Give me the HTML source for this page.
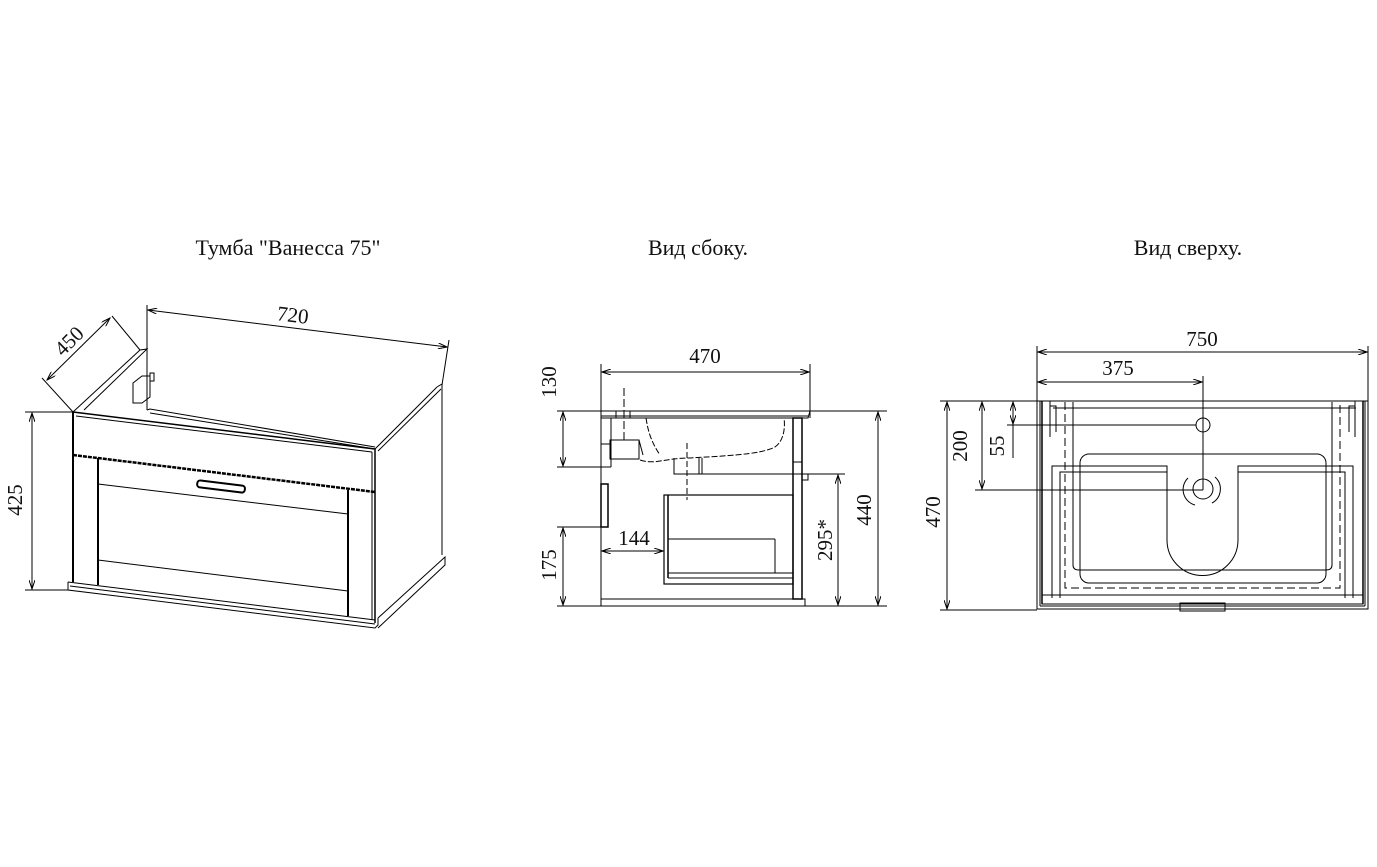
<!DOCTYPE html>
<html><head><meta charset="utf-8"><style>
html,body{margin:0;padding:0;background:#fff}
svg{display:block}
text{font-family:"Liberation Serif",serif;fill:#111}
</style></head><body>
<svg width="1377" height="867" viewBox="0 0 1377 867" xmlns="http://www.w3.org/2000/svg">
<defs>
<marker id="a" markerWidth="10" markerHeight="6" refX="9" refY="3" orient="auto-start-reverse" markerUnits="userSpaceOnUse">
<path d="M0,0 L9,3 L0,6" fill="none" stroke="#000" stroke-width="1"/></marker>
</defs>
<g font-size="22">
<text x="288" y="255" text-anchor="middle">Тумба "Ванесса 75"</text>
<text x="698" y="255" text-anchor="middle">Вид сбоку.</text>
<text x="1188" y="255" text-anchor="middle">Вид сверху.</text>
</g>

<!-- LEFT ISOMETRIC VIEW -->
<g stroke="#000" stroke-width="1" fill="none">
<line x1="147" y1="305" x2="147" y2="349"/>
<line x1="449" y1="340" x2="442" y2="385"/>
<line x1="148" y1="310" x2="447" y2="347" marker-start="url(#a)" marker-end="url(#a)"/>
<line x1="42" y1="378" x2="73" y2="412"/>
<line x1="112" y1="316" x2="140" y2="350"/>
<line x1="47" y1="380" x2="110" y2="318" marker-start="url(#a)" marker-end="url(#a)"/>
<line x1="25" y1="412" x2="73" y2="412"/>
<line x1="25" y1="590" x2="68" y2="590"/>
<line x1="32" y1="413" x2="32" y2="589" marker-start="url(#a)" marker-end="url(#a)"/>
<path d="M73,412 L140,350 L147,349 L84,410"/>
<line x1="147" y1="349" x2="147" y2="410"/>
<path d="M133,383 L142,376 L150,376 L150,397 L142,403 L133,403 Z"/>
<rect x="150" y="373" width="4" height="8"/>
<path d="M147,410 L150,409 L375,447"/>
<line x1="150" y1="413" x2="375" y2="449"/>
<line x1="73" y1="412" x2="375" y2="449" stroke-width="1.5"/>
<line x1="76" y1="416" x2="372" y2="452"/>
<line x1="73" y1="412" x2="73" y2="582" stroke-width="2"/>
<line x1="375" y1="449" x2="375" y2="623" stroke-width="1.5"/>
<line x1="372" y1="452" x2="372" y2="620"/>
<line x1="73" y1="455" x2="375" y2="492" stroke-width="2.5" stroke-dasharray="4,1"/>
<line x1="98" y1="458" x2="98" y2="585" stroke-width="2"/>
<line x1="348" y1="490" x2="348" y2="616" stroke-width="2"/>
<line x1="98" y1="484" x2="348" y2="514"/>
<line x1="98" y1="560" x2="348" y2="591"/>
<rect x="197" y="483" width="48" height="7" rx="3" transform="rotate(7 221 487)" stroke-width="2"/>
<path d="M68,582 L68,590 L375,628 L378,625 L378,618"/>
<line x1="68" y1="582" x2="375" y2="620"/>
<line x1="70" y1="586" x2="375" y2="624"/>
<line x1="375" y1="449" x2="437" y2="387"/>
<path d="M437,387 L442,384 L442,555"/>
<line x1="378" y1="451" x2="441" y2="389"/>
<path d="M378,618 L445,557 L445,565 L378,628"/>
</g>
<g font-size="21">
<text x="292" y="322" transform="rotate(7 292 322)" text-anchor="middle">720</text>
<text x="74" y="346" transform="rotate(-45 74 346)" text-anchor="middle">450</text>
<text x="22" y="500" transform="rotate(-90 22 500)" text-anchor="middle">425</text>
</g>

<!-- SIDE VIEW -->
<g stroke="#000" stroke-width="1" fill="none">
<line x1="601" y1="364" x2="601" y2="606"/>
<line x1="810" y1="364" x2="810" y2="418"/>
<line x1="602" y1="372" x2="809" y2="372" marker-start="url(#a)" marker-end="url(#a)"/>
<line x1="557" y1="411" x2="887" y2="411"/>
<line x1="557" y1="606" x2="887" y2="606"/>
<line x1="557" y1="467" x2="611" y2="467"/>
<line x1="557" y1="527" x2="608" y2="527"/>
<line x1="563" y1="412" x2="563" y2="466" marker-start="url(#a)" marker-end="url(#a)"/>
<line x1="563" y1="528" x2="563" y2="605" marker-start="url(#a)" marker-end="url(#a)"/>
<line x1="878" y1="412" x2="878" y2="605" marker-start="url(#a)" marker-end="url(#a)"/>
<line x1="838" y1="475" x2="838" y2="605" marker-start="url(#a)" marker-end="url(#a)"/>
<line x1="602" y1="551" x2="663" y2="551" marker-start="url(#a)" marker-end="url(#a)"/>
<path d="M601,418 L808,418 L810,411"/>
<line x1="601" y1="416" x2="808" y2="416"/>
<path d="M646,418 C648,430 650,440 660,455" stroke-dasharray="6,2"/>
<path d="M640,460 C655,465 665,458 690,458 C720,456 760,455 775,447 C785,440 785,425 784,418" stroke-dasharray="6,2"/>
<path d="M674,458 L674,474 L702,474 L702,458"/>
<line x1="699" y1="458" x2="699" y2="474"/>
<line x1="674" y1="474" x2="845" y2="474"/>
<line x1="687" y1="443" x2="687" y2="500" stroke-dasharray="6,3"/>
<line x1="624" y1="388" x2="624" y2="440" stroke-dasharray="8,3"/>
<line x1="616" y1="411" x2="616" y2="418"/>
<line x1="630" y1="411" x2="630" y2="418"/>
<line x1="611" y1="418" x2="611" y2="467"/>
<rect x="610" y="440" width="29" height="19"/>
<path d="M601,444 L610,444"/>
<line x1="639" y1="440" x2="643" y2="455"/>
<rect x="601" y="484" width="7" height="43" stroke-width="1.5"/>
<rect x="793" y="418" width="9" height="181" stroke-width="1.5"/>
<path d="M802,474 L808,474 L808,480 L802,480"/>
<line x1="793" y1="462" x2="802" y2="462"/>
<rect x="664" y="495" width="129" height="89" stroke-width="1.2"/>
<line x1="668" y1="495" x2="668" y2="578" stroke-width="1.5"/>
<line x1="668" y1="539" x2="775" y2="539"/>
<line x1="775" y1="539" x2="775" y2="573"/>
<line x1="668" y1="573" x2="793" y2="573"/>
<line x1="668" y1="578" x2="793" y2="578"/>
<path d="M601,599 L805,599 L805,606"/>
</g>
<g font-size="21">
<text x="705" y="363" text-anchor="middle">470</text>
<text x="556" y="382" transform="rotate(-90 556 382)" text-anchor="middle">130</text>
<text x="556" y="565" transform="rotate(-90 556 565)" text-anchor="middle">175</text>
<text x="634" y="545" text-anchor="middle">144</text>
<text x="832" y="540" transform="rotate(-90 832 540)" text-anchor="middle">295*</text>
<text x="871" y="510" transform="rotate(-90 871 510)" text-anchor="middle">440</text>
</g>

<!-- TOP VIEW -->
<g stroke="#000" stroke-width="1" fill="none">
<line x1="1037" y1="346" x2="1037" y2="402"/>
<line x1="1368" y1="346" x2="1368" y2="402"/>
<line x1="1038" y1="352" x2="1367" y2="352" marker-start="url(#a)" marker-end="url(#a)"/>
<line x1="1038" y1="382" x2="1202" y2="382" marker-start="url(#a)" marker-end="url(#a)"/>
<line x1="1203" y1="376" x2="1203" y2="490"/>
<line x1="940" y1="401" x2="1037" y2="401"/>
<line x1="940" y1="610" x2="1037" y2="610"/>
<line x1="947" y1="402" x2="947" y2="609" marker-start="url(#a)" marker-end="url(#a)"/>
<line x1="982" y1="402" x2="982" y2="489" marker-start="url(#a)" marker-end="url(#a)"/>
<line x1="1013" y1="402" x2="1013" y2="424" marker-start="url(#a)" marker-end="url(#a)"/>
<line x1="1013" y1="424" x2="1013" y2="458"/>
<line x1="1007" y1="425" x2="1196" y2="425"/>
<line x1="975" y1="490" x2="1203" y2="490"/>
<rect x="1037" y="401" width="331" height="208"/>
<line x1="1040" y1="401" x2="1040" y2="606"/>
<line x1="1042" y1="401" x2="1042" y2="604" stroke-width="1.5"/>
<line x1="1365" y1="401" x2="1365" y2="606"/>
<line x1="1363" y1="401" x2="1363" y2="604" stroke-width="1.5"/>
<line x1="1053" y1="408" x2="1356" y2="408"/>
<rect x="1042" y="595" width="321" height="9"/>
<line x1="1040" y1="606" x2="1365" y2="606"/>
<rect x="1180" y="603" width="45" height="8"/>
<path d="M1050,401 L1050,406 L1056,406 L1056,432 M1050,406 L1050,437"/>
<path d="M1355,401 L1355,406 L1349,406 L1349,432 M1355,406 L1355,437"/>
<path d="M1065,402 L1065,588 L1340,588 L1340,402" stroke-dasharray="8,4"/>
<line x1="1073" y1="402" x2="1073" y2="565"/>
<path d="M1073,565 Q1073,570 1079,570 L1326,570 Q1332,570 1332,565 L1332,402"/>
<rect x="1080" y="454" width="246" height="129" rx="9"/>
<path d="M1052,598 L1052,466 L1167,466 L1167,540 A35.5,35.5 0 0 0 1238,540 L1238,466 L1353,466 L1353,598"/>
<path d="M1060,598 L1060,472 L1167,472 M1238,472 L1345,472 L1345,598"/>
<circle cx="1203" cy="425" r="7"/>
<circle cx="1203" cy="489" r="10"/>
<path d="M1188,478 A16,16 0 0 0 1195,505 M1215,477 A16,16 0 0 1 1212,503" />
</g>
<g font-size="21">
<text x="1202" y="346" text-anchor="middle">750</text>
<text x="1118" y="375" text-anchor="middle">375</text>
<text x="967" y="446" transform="rotate(-90 967 446)" text-anchor="middle">200</text>
<text x="1004" y="446" transform="rotate(-90 1004 446)" text-anchor="middle">55</text>
<text x="940" y="512" transform="rotate(-90 940 512)" text-anchor="middle">470</text>
</g>
</svg>
</body></html>
